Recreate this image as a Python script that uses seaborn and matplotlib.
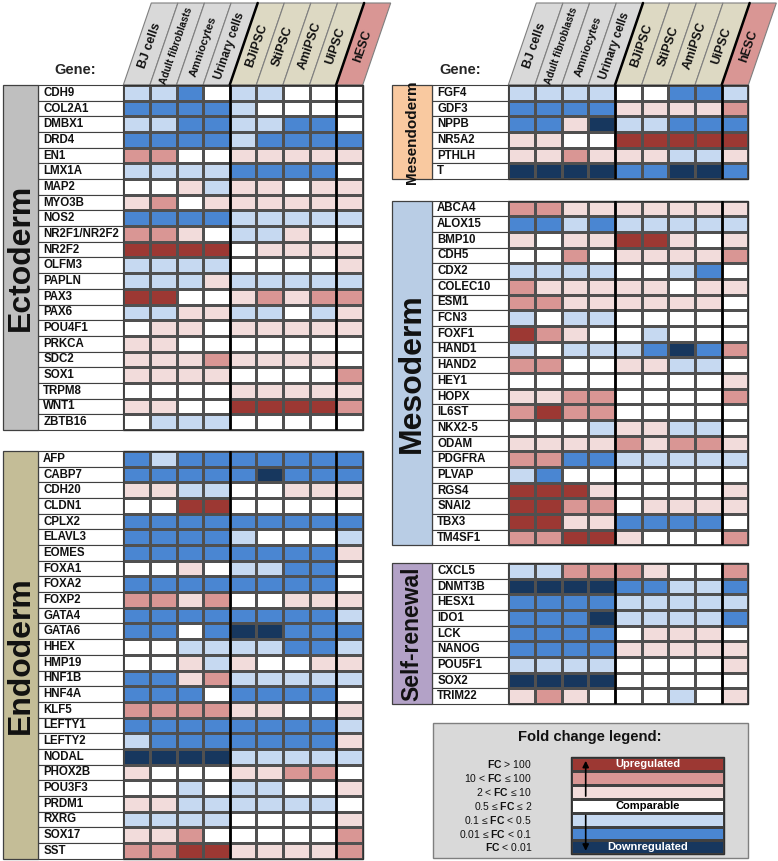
import numpy as np
import pandas as pd
import matplotlib
matplotlib.use("Agg")
import matplotlib.pyplot as plt
from matplotlib.colors import ListedColormap
from matplotlib.patches import Rectangle, Polygon
import seaborn as sns

# ---- data: fold-change class per gene and sample (-3 .. 3) ----
SAMPLES = ["BJ cells", "Adult fibroblasts", "Amniocytes", "Urinary cells",
           "BJiPSC", "StiPSC", "AmiPSC", "UiPSC", "hESC"]

ECTO_GENES = ["CDH9", "COL2A1", "DMBX1", "DRD4", "EN1", "LMX1A", "MAP2", "MYO3B",
              "NOS2", "NR2F1/NR2F2", "NR2F2", "OLFM3", "PAPLN", "PAX3", "PAX6",
              "POU4F1", "PRKCA", "SDC2", "SOX1", "TRPM8", "WNT1", "ZBTB16"]
ECTO_FC = [
    [-1, -1, -2, 0, -1, -1, 0, 0, 0],
    [-2, -2, -2, -2, -1, 0, 0, 0, 0],
    [-1, -1, -2, -2, -1, -1, -2, -2, 0],
    [-2, -2, -2, -2, -1, -2, -2, -2, -2],
    [2, 2, 0, 0, 1, 1, 1, 1, 1],
    [-1, -1, -1, -1, -2, -2, -2, -2, 0],
    [0, 0, 1, -1, 1, 1, 0, 1, 1],
    [1, 2, 0, 1, 1, 1, 1, 1, 1],
    [-2, -2, -2, -2, -1, -1, -1, -1, -1],
    [2, 2, 1, 0, -1, -1, 1, 0, 0],
    [3, 3, 3, 3, 0, 1, 1, 1, 1],
    [-1, -1, -1, -1, 0, 0, 0, 0, 1],
    [-1, -1, -1, 1, -1, -1, -1, -1, -1],
    [3, 3, 0, 0, 1, 2, 1, 2, 2],
    [-1, -1, 1, 1, -1, -1, 0, -1, 1],
    [0, 1, 1, 0, 1, 1, 1, 1, 1],
    [1, 1, 0, 0, 0, 0, 0, 0, 0],
    [1, 1, 1, 2, 1, 1, 1, 1, 0],
    [1, 1, 1, 1, 0, 0, 0, 0, 2],
    [0, 0, 0, 0, 1, 1, 1, 1, 1],
    [1, 1, 0, 0, 3, 3, 3, 3, 2],
    [0, -1, -1, -1, 0, 0, 0, 0, 0],
]

ENDO_GENES = ["AFP", "CABP7", "CDH20", "CLDN1", "CPLX2", "ELAVL3", "EOMES", "FOXA1",
              "FOXA2", "FOXP2", "GATA4", "GATA6", "HHEX", "HMP19", "HNF1B", "HNF4A",
              "KLF5", "LEFTY1", "LEFTY2", "NODAL", "PHOX2B", "POU3F3", "PRDM1",
              "RXRG", "SOX17", "SST"]
ENDO_FC = [
    [-2, -1, -2, -2, -2, -2, -2, -2, -2],
    [-2, -2, -2, -2, -2, -3, -2, -2, -2],
    [1, 1, -1, -1, 0, 0, 1, 1, 1],
    [0, 0, 3, 3, 0, 0, 0, 0, 0],
    [-2, -2, -2, -2, -2, -2, -2, -2, -2],
    [-2, -2, -2, -2, -1, 0, 0, 0, -1],
    [-2, -2, -2, -2, -2, -2, -2, -2, 1],
    [0, 0, 1, 0, -1, -1, -2, -2, 0],
    [-2, -2, -2, -2, -2, -2, -2, -2, 0],
    [2, 2, 1, 2, 0, 0, 1, 1, 1],
    [-2, -2, -2, -2, -2, -2, -2, -2, -1],
    [-2, -2, 0, -2, -3, -3, -2, -2, -2],
    [0, 0, -1, -1, -1, -1, -2, -2, -1],
    [0, 0, 1, -1, 1, 0, 0, 1, 1],
    [-2, -2, 1, 2, -1, -1, -1, -1, -1],
    [-2, -2, -2, 0, -2, -2, -2, -2, 0],
    [2, 2, 2, 2, 1, 1, 0, 0, 1],
    [-2, -2, -2, -2, -2, -2, -2, -2, -1],
    [-1, -2, -2, -2, -2, -2, -2, -2, 1],
    [-3, -3, -3, -3, -1, -1, -1, -1, -1],
    [1, 0, 0, 0, 1, 1, 2, 2, 0],
    [0, 0, -1, 0, -1, -1, 0, 0, 1],
    [1, 1, -1, -1, -1, -1, -1, -1, 0],
    [-1, -1, -1, -1, 0, 0, 0, 0, 1],
    [1, 1, 2, 0, 0, 0, 0, 0, 2],
    [2, 2, 3, 3, 1, 1, 1, 1, 2],
]

MESENDO_GENES = ["FGF4", "GDF3", "NPPB", "NR5A2", "PTHLH", "T"]
MESENDO_FC = [
    [-1, -1, -1, -1, 0, 0, -2, -2, -1],
    [-2, -2, -2, -2, 1, 1, 1, 1, 2],
    [-2, -2, 1, -3, -1, -1, -2, -2, -2],
    [1, 1, 0, 0, 3, 3, 3, 3, 3],
    [1, 1, 2, 1, 1, 1, -1, -1, 1],
    [-3, -3, -3, -3, -2, -2, -3, -3, -2],
]

MESO_GENES = ["ABCA4", "ALOX15", "BMP10", "CDH5", "CDX2", "COLEC10", "ESM1", "FCN3",
              "FOXF1", "HAND1", "HAND2", "HEY1", "HOPX", "IL6ST", "NKX2-5", "ODAM",
              "PDGFRA", "PLVAP", "RGS4", "SNAI2", "TBX3", "TM4SF1"]
MESO_FC = [
    [2, 2, 1, 1, 1, 1, 1, 1, 1],
    [-2, -2, -1, -2, -1, -1, -1, -1, -1],
    [1, 0, 1, 1, 3, 3, 1, 0, 1],
    [0, 0, 2, 0, 1, 1, 1, 1, 2],
    [-1, -1, -1, -1, 0, 0, -1, -2, 0],
    [2, 1, 1, 1, 1, 1, 0, 1, 1],
    [2, 2, 1, 1, 1, 1, 1, 1, 0],
    [-1, 0, -1, -1, 0, 0, 0, 0, 0],
    [3, 2, 1, 0, 0, -1, 0, 0, 0],
    [-1, 0, -1, -1, -1, -2, -3, -2, 2],
    [2, 2, 0, 0, 1, 1, -1, -1, 0],
    [0, 0, 0, 0, 0, 0, 0, 0, 1],
    [1, 1, 2, 2, 0, 0, 0, 0, 2],
    [2, 3, 2, 2, 0, 0, 0, 0, 0],
    [0, 0, 0, -1, 1, 1, -1, -1, 0],
    [1, 1, 1, 1, 2, 1, 2, 2, 1],
    [2, 2, -2, -2, -1, -1, -1, -1, -1],
    [-1, -2, 0, 0, 0, 0, 0, 0, 0],
    [3, 3, 3, 1, 0, 0, 0, 0, 1],
    [3, 3, 2, 2, 0, 1, 1, 1, 1],
    [3, 3, 1, 1, -2, -2, -2, -2, 0],
    [2, 2, 3, 3, 1, 0, 0, 0, 2],
]

SELF_GENES = ["CXCL5", "DNMT3B", "HESX1", "IDO1", "LCK", "NANOG", "POU5F1", "SOX2", "TRIM22"]
SELF_FC = [
    [-1, -1, 2, 2, 2, 1, 0, 0, 2],
    [-3, -3, -3, -3, -2, -2, -1, -1, -2],
    [-2, -2, -2, -2, -1, -1, -1, -1, -1],
    [-2, -2, -2, -3, -1, -1, -1, -1, -2],
    [-2, -2, -2, -2, 0, 1, 1, 1, 0],
    [-2, -2, -2, -2, 1, 1, 1, 1, 1],
    [-1, -1, -1, -1, 0, 0, 0, 0, 1],
    [-3, -3, -3, -3, 0, 0, 0, 0, 0],
    [1, 2, 1, 0, 0, 0, -1, 0, 1],
]

LEGEND_LEVELS = [3, 2, 1, 0, -1, -2, -3]
LEGEND_LABELS = [r"$\mathbf{FC}$ > 100", r"10 < $\mathbf{FC}$ ≤ 100", r"2 < $\mathbf{FC}$ ≤ 10",
                 r"0.5 ≤ $\mathbf{FC}$ ≤ 2", r"0.1 ≤ $\mathbf{FC}$ < 0.5",
                 r"0.01 ≤ $\mathbf{FC}$ < 0.1", r"$\mathbf{FC}$ < 0.01"]

# colours from -3 (navy) to 3 (dark red)
FC_COLORS = ["#17375e", "#4a86d2", "#c6d9f1", "#ffffff", "#f2dcdb", "#d99694", "#9c3833"]
HEADER_COLORS = ["#d9d9d9"] * 4 + ["#ddd9c3"] * 4 + ["#d99694"]
HEADER_SIZES = [9, 7.3, 8, 8.4, 9, 9, 9, 9, 9]

W, H = 778, 861
ROW_H = 15.68

sns.set_theme(style="white")
plt.rcParams['font.family'] = ['Liberation Sans', 'DejaVu Sans']
plt.rcParams['mathtext.fontset'] = 'custom'
plt.rcParams['mathtext.rm'] = 'Liberation Sans'
plt.rcParams['mathtext.bf'] = 'Liberation Sans:bold'

cmap = ListedColormap(FC_COLORS)


def px_axes(fig, x0, y0, w, h):
    """像素坐标 -> figure 坐标"""
    return fig.add_axes([x0 / W, 1 - (y0 + h) / H, w / W, h / H])


def draw_header(ov, x0, cw, y_bot=85, y_top=3, shift=28):
    """倾斜的列标题"""
    h = y_bot - y_top
    for j, name in enumerate(SAMPLES):
        xl, xr = x0 + j * cw, x0 + (j + 1) * cw
        ov.add_patch(Polygon([(xl, y_bot), (xr, y_bot), (xr + shift, y_top), (xl + shift, y_top)],
                             closed=True, fc=HEADER_COLORS[j], ec="#7f7f7f", lw=0.8))
        cx = (xl + xr) / 2 + (y_bot - 46) * shift / h
        ov.text(cx, 46, name, rotation=71, rotation_mode="anchor", ha="center", va="center",
                fontsize=HEADER_SIZES[j], fontweight="bold", color="#111111")
    for j in (4, 8):
        xb = x0 + j * cw
        ov.plot([xb, xb + shift], [y_bot, y_top], color="black", lw=1.8)


def draw_block(fig, genes, values, name, color, x0, top, cw, lab_w, cat_w, cat_fs):
    """绘制一个基因组块"""
    n = len(genes)
    ax = px_axes(fig, x0, top, 9 * cw, n * ROW_H)
    df = pd.DataFrame(values, index=genes, columns=SAMPLES)
    sns.heatmap(df, ax=ax, cmap=cmap, vmin=-3.5, vmax=3.5, cbar=False,
                linewidths=0.8, linecolor="#505050", xticklabels=False, yticklabels=False)
    ax.set_xlabel("")
    ax.set_ylabel("")
    for xv in (4, 8):
        ax.axvline(xv, color="black", lw=1.8)
    ax.add_patch(Rectangle((0, 0), 9, n, fill=False, ec="#303030", lw=1.0, clip_on=False))

    lu, cu = lab_w / cw, cat_w / cw
    for i, g in enumerate(genes):
        ax.add_patch(Rectangle((-lu, i), lu, 1, fc="white", ec="#404040", lw=0.8, clip_on=False))
        ax.text(-lu + 5.5 / cw, i + 0.5, g, ha="left", va="center", fontsize=8.3,
                fontweight="bold", color="#111111")
    ax.add_patch(Rectangle((-lu - cu, 0), cu, n, fc=color, ec="#404040", lw=0.9, clip_on=False))
    ax.text(-lu - cu / 2, n / 2, name, rotation=90, ha="center", va="center",
            fontsize=cat_fs, fontweight="bold", color="#111111")
    return ax


def draw_legend(fig, ov):
    """Fold change 图例"""
    ov.add_patch(Rectangle((433, 723), 315, 135, fc="#d9d9d9", ec="#7f7f7f", lw=1.0))
    ov.text(590, 737, "Fold change legend:", ha="center", va="center",
            fontsize=10.6, fontweight="bold", color="#111111")
    bw = 153.6
    ax = px_axes(fig, 570.7, 757.3, bw, 97)
    df = pd.DataFrame({"FC": LEGEND_LEVELS}, index=LEGEND_LABELS)
    sns.heatmap(df, ax=ax, cmap=cmap, vmin=-3.5, vmax=3.5, cbar=False,
                linewidths=0.8, linecolor="#404040", xticklabels=False, yticklabels=False)
    ax.set_xlabel("")
    ax.set_ylabel("")
    ax.add_patch(Rectangle((0, 0), 1, 7, fill=False, ec="#303030", lw=1.0, clip_on=False))
    for i, lab in enumerate(LEGEND_LABELS):
        ax.text(-38.7 / bw, i + 0.5, lab, ha="right", va="center", fontsize=7.5, color="#111111")
    ax.text(0.5, 0.5, "Upregulated", ha="center", va="center", color="white",
            fontsize=8, fontweight="bold")
    ax.text(0.5, 3.5, "Comparable", ha="center", va="center", color="black",
            fontsize=8, fontweight="bold")
    ax.text(0.5, 6.5, "Downregulated", ha="center", va="center", color="white",
            fontsize=8, fontweight="bold")
    ax_x = 15.0 / bw
    ax.annotate("", xy=(ax_x, 0.05), xytext=(ax_x, 3.0),
                arrowprops=dict(arrowstyle="-|>", color="black", lw=1.2, mutation_scale=9))
    ax.annotate("", xy=(ax_x, 6.95), xytext=(ax_x, 4.0),
                arrowprops=dict(arrowstyle="-|>", color="black", lw=1.2, mutation_scale=9))


def main():
    fig = plt.figure(figsize=(W / 100, H / 100), dpi=100)
    ov = fig.add_axes([0, 0, 1, 1])
    ov.set_xlim(0, W)
    ov.set_ylim(H, 0)
    ov.axis("off")

    # 左侧
    lx, lcw = 123.3, 26.6
    draw_header(ov, lx, lcw)
    ov.text(75, 70, "Gene:", ha="center", va="center", fontsize=10.5, fontweight="bold")
    draw_block(fig, ECTO_GENES, ECTO_FC, "Ectoderm", "#bfbfbf", lx, 85, lcw, 85.6, 34.4, 23)
    draw_block(fig, ENDO_GENES, ENDO_FC, "Endoderm", "#c4bd97", lx, 451, lcw, 85.6, 34.4, 23)

    # 右侧
    rx, rcw = 508.3, 26.67
    draw_header(ov, rx, rcw)
    ov.text(460, 70, "Gene:", ha="center", va="center", fontsize=10.5, fontweight="bold")
    draw_block(fig, MESENDO_GENES, MESENDO_FC, "Mesendoderm", "#f9c9a0", rx, 85, rcw, 76.6, 39.6, 11)
    draw_block(fig, MESO_GENES, MESO_FC, "Mesoderm", "#b9cde5", rx, 200.5, rcw, 76.6, 39.6, 23)
    draw_block(fig, SELF_GENES, SELF_FC, "Self-renewal", "#b3a2c7", rx, 563, rcw, 76.6, 39.6, 16.5)

    draw_legend(fig, ov)

    fig.savefig("out.png", dpi=100)


if __name__ == "__main__":
    main()
